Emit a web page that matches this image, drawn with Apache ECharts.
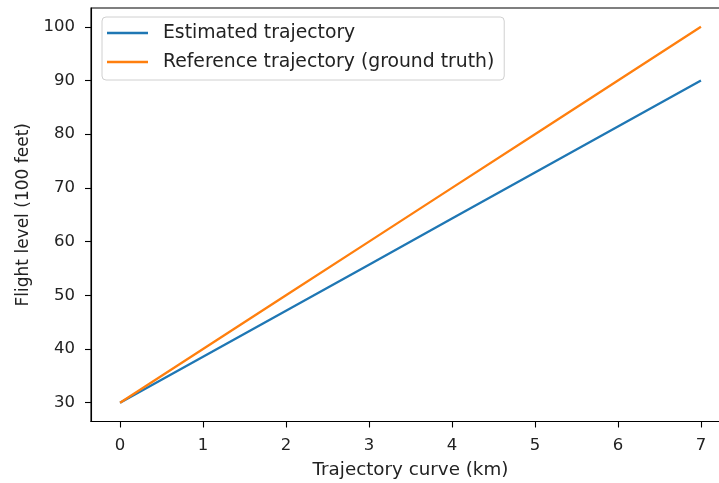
<!DOCTYPE html>
<html>
<head>
<meta charset="utf-8">
<script src="https://cdn.jsdelivr.net/npm/echarts@6/dist/echarts.min.js"></script>
<style>html,body{margin:0;padding:0;background:#fff;}#c{width:719px;height:483px;}</style>
</head>
<body>
<div id="c"></div>
<script>
var xValues = [0, 1, 2, 3, 4, 5, 6, 7];
var estimated = [30, 38.57, 47.14, 55.71, 64.29, 72.86, 81.43, 90];
var reference = [30, 40, 50, 60, 70, 80, 90, 100];
var xTicks = [0, 1, 2, 3, 4, 5, 6, 7];
var yTicks = [30, 40, 50, 60, 70, 80, 90, 100];
var seriesNames = ['Estimated trajectory', 'Reference trajectory (ground truth)'];

var font = 'DejaVu Sans';
var chart = echarts.init(document.getElementById('c'), null, {renderer: 'canvas'});
function pairs(ys) { return xValues.map(function (x, i) { return [x, ys[i]]; }); }
var axisCommon = {
  axisLine: {show: true, onZero: false, lineStyle: {color: '#000', width: 1.1}},
  axisTick: {show: true, length: 6, lineStyle: {color: '#000', width: 1.1}},
  splitLine: {show: false},
  axisLabel: {color: '#222', fontFamily: font, fontSize: 16.5, margin: 16}
};
chart.setOption({
  backgroundColor: '#fff',
  animation: false,
  grid: {left: 91, top: 8, width: 639, height: 413.5, containLabel: false, outerBoundsMode: 'none', show: true, borderColor: '#000', borderWidth: 1.1},
  legend: {
    orient: 'vertical', left: 102, top: 17,
    data: seriesNames,
    icon: 'rect', itemWidth: 41, itemHeight: 2.5, itemGap: 9,
    padding: [6, 10, 8, 5],
    borderColor: '#d0d0d0', borderWidth: 1, borderRadius: 4,
    backgroundColor: 'rgba(255,255,255,0.8)',
    textStyle: {fontFamily: font, fontSize: 18.8, color: '#222', lineHeight: 20, padding: [0, 0, 0, 10]}
  },
  xAxis: Object.assign({}, axisCommon, {
    type: 'value', min: -0.35, max: 7.35,
    name: 'Trajectory curve (km)', nameLocation: 'middle', nameGap: 40,
    nameTextStyle: {color: '#222', fontFamily: font, fontSize: 18.3},
    axisTick: Object.assign({}, axisCommon.axisTick, {customValues: xTicks}),
    axisLabel: Object.assign({}, axisCommon.axisLabel, {customValues: xTicks})
  }),
  yAxis: Object.assign({}, axisCommon, {
    type: 'value', min: 26.5, max: 103.5,
    name: 'Flight level (100 feet)', nameLocation: 'middle', nameGap: 59, nameRotate: 90,
    nameTextStyle: {color: '#222', fontFamily: font, fontSize: 17},
    axisTick: Object.assign({}, axisCommon.axisTick, {customValues: yTicks}),
    axisLabel: Object.assign({}, axisCommon.axisLabel, {customValues: yTicks})
  }),
  series: [
    {name: seriesNames[0], type: 'line', data: pairs(estimated), showSymbol: false, symbol: 'none',
     lineStyle: {color: '#1f77b4', width: 2.3}, itemStyle: {color: '#1f77b4'}},
    {name: seriesNames[1], type: 'line', data: pairs(reference), showSymbol: false, symbol: 'none',
     lineStyle: {color: '#ff7f0e', width: 2.3}, itemStyle: {color: '#ff7f0e'}}
  ]
});
</script>
</body>
</html>
